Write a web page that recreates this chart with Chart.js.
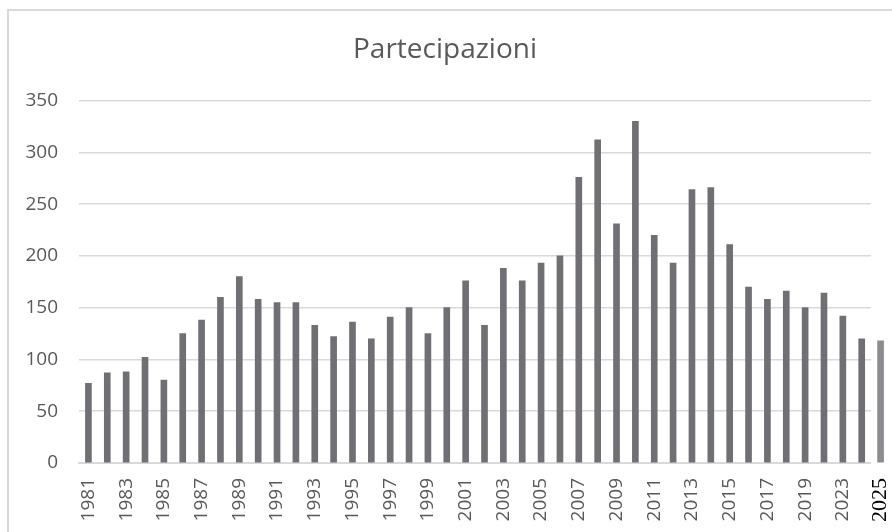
<!DOCTYPE html>
<html>
<head>
<meta charset="utf-8">
<script src="https://cdn.jsdelivr.net/npm/chart.js@4/dist/chart.umd.min.js"></script>
<style>
  html, body { margin: 0; padding: 0; background: #fff; overflow: hidden; }
  #wrap { position: relative; width: 892px; height: 532px; }
  #frame { position: absolute; left: 7px; top: 9px; width: 900px; height: 600px; border: 2px solid #d9d9d9; }
  #wrap canvas { position: absolute; left: 0; top: 0; }
</style>
</head>
<body>
<div id="wrap">
  <div id="frame"></div>
  <canvas id="barChart"></canvas>
</div>
<script>
// years shown on the category axis (2020-2021 not present in the series)
const years = [
    '1981', '1982', '1983', '1984', '1985', '1986', '1987', '1988', '1989', '1990',
    '1991', '1992', '1993', '1994', '1995', '1996', '1997', '1998', '1999', '2000',
    '2001', '2002', '2003', '2004', '2005', '2006', '2007', '2008', '2009', '2010',
    '2011', '2012', '2013', '2014', '2015', '2016', '2017', '2018', '2019', '2022',
    '2023', '2024', '2025'
];
const partecipazioni = [
    77, 87, 88, 102, 80, 125, 138, 160, 180, 158,
    155, 155, 133, 122, 136, 120, 141, 150, 125, 150,
    176, 133, 188, 176, 193, 200, 276, 312, 231, 330,
    220, 193, 264, 266, 211, 170, 158, 166, 150, 164,
    142, 120, 118
];
const yTicks = [0, 50, 100, 150, 200, 250, 300, 350];

const lastIdx = years.length - 1;  // 2025 sits outside the original plot
const gridEnd = 871;

// hide gridlines / axis line to the right of the original plot area
const trimGrid = {
    id: 'trimGrid',
    beforeDatasetsDraw(chart) {
        const a = chart.chartArea;
        const ctx = chart.ctx;
        ctx.save();
        ctx.fillStyle = '#fff';
        ctx.fillRect(gridEnd, a.top - 3, a.right - gridEnd + 5, a.bottom - a.top + 6);
        ctx.restore();
    }
};

const ctx = document.getElementById('barChart').getContext('2d');
const barChart = new Chart(ctx, {
    type: 'bar',
    data: {
        labels: years,
        datasets: [{
            label: 'Partecipazioni',
            data: partecipazioni,
            backgroundColor: c => c.dataIndex === lastIdx ? '#8c8c90' : '#707074',
            barThickness: 6
        }]
    },
    options: {
        responsive: true,
        maintainAspectRatio: false,
        animation: false,
        layout: { padding: { left: 0, right: 2, top: 0, bottom: 0 } },
        plugins: {
            legend: { display: false },
            tooltip: { enabled: false },
            title: {
                display: true,
                text: 'Partecipazioni',
                color: '#595959',
                font: { family: 'Open Sans', size: 28, weight: 'normal' },
                padding: { top: 33, bottom: 34 }
            }
        },
        scales: {
            x: {
                afterFit: s => { s.height = 69; s.paddingLeft = 0; s.paddingRight = 0; },
                grid: { display: false },
                border: { display: true, color: '#d9d9d9', width: 2 },
                ticks: {
                    autoSkip: false,
                    maxRotation: 90,
                    minRotation: 90,
                    padding: 7,
                    callback: function (v, i) { return i % 2 === 0 ? this.getLabelForValue(v) : ''; },
                    color: c => c.index === lastIdx ? '#000' : '#595959',
                    font: c => c.index === lastIdx
                        ? { family: 'Liberation Serif', size: 22 }
                        : { family: 'Open Sans', size: 19 }
                }
            },
            y: {
                min: 0,
                max: 350,
                afterFit: s => { s.width = 79; },
                afterBuildTicks: s => { s.ticks = yTicks.map(v => ({ value: v })); },
                grid: { color: '#d9d9d9', lineWidth: 1.5, drawTicks: false },
                border: { display: false },
                ticks: {
                    padding: 21,
                    color: '#595959',
                    font: { family: 'Open Sans', size: 19 }
                }
            }
        }
    },
    plugins: [trimGrid]
});
</script>
</body>
</html>
